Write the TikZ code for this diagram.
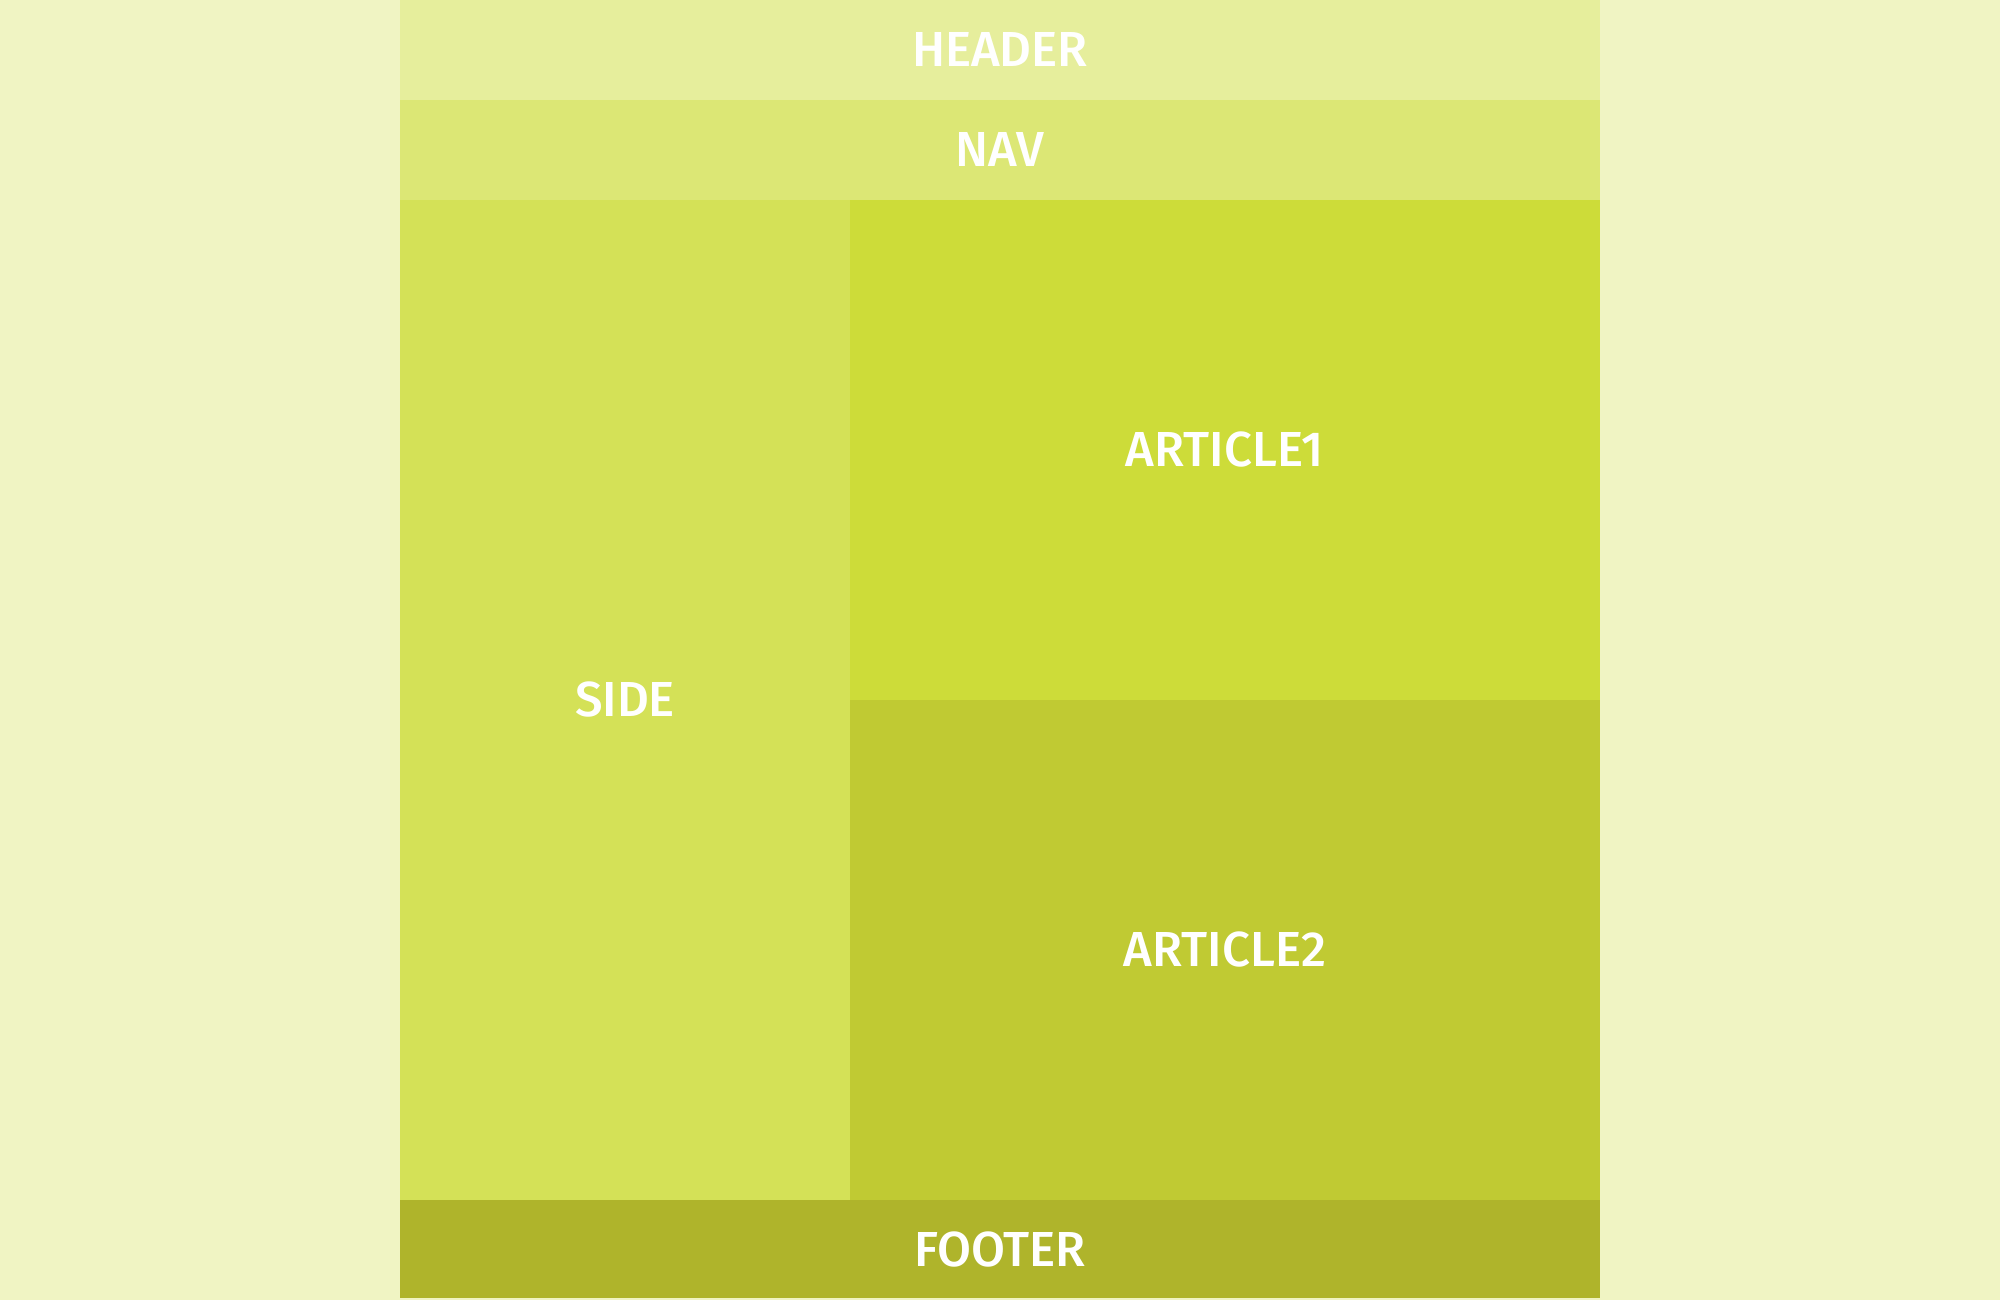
\documentclass[tikz,border=0pt]{standalone}
\usepackage{fontspec}
\setmainfont{Fira Sans}[BoldFont={Fira Sans Medium}]
\usepackage{tikz}
\usetikzlibrary{positioning}
\definecolor{limeA}{HTML}{F0F4C3}
\definecolor{limeB}{HTML}{E6EE9C}
\definecolor{limeC}{HTML}{DCE775}
\definecolor{limeD}{HTML}{D4E157}
\definecolor{limeE}{HTML}{CDDC39}
\definecolor{limeF}{HTML}{C0CA33}
\definecolor{limeG}{HTML}{AFB42B}

\begin{document}
\begin{tikzpicture}[
  region/.style={fill=#1, draw=none, inner sep=0pt, outer sep=0pt,
    text=white, font=\fontsize{14}{16}\selectfont\bfseries},
]
% Page background
\fill[limeA] (0,0) rectangle (20,-13);
\useasboundingbox (0,0) rectangle (20,-13);

% Top bars
\node[region=limeB, minimum width=12cm, minimum height=1cm, anchor=north west] (header) at (4,0) {HEADER};
\node[region=limeC, minimum width=12cm, minimum height=1cm, below=0pt of header] (nav) {NAV};

% Body
\node[region=limeD, minimum width=4.5cm, minimum height=10cm, anchor=north west] (side) at (nav.south west) {SIDE};
\node[region=limeE, minimum width=7.5cm, minimum height=5cm, anchor=north west] (article1) at (side.north east) {ARTICLE1};
\node[region=limeF, minimum width=7.5cm, minimum height=5cm, below=0pt of article1] (article2) {ARTICLE2};

% Footer
\node[region=limeG, minimum width=12cm, minimum height=0.98cm, anchor=north west] (footer) at (side.south west) {FOOTER};

\end{tikzpicture}
\end{document}
